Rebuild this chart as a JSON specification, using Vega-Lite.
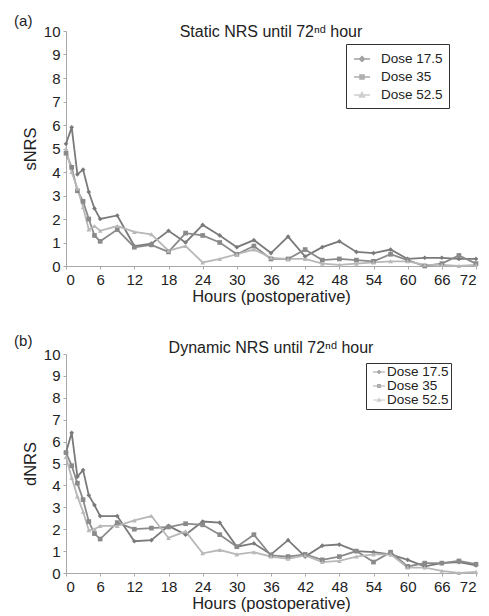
{
  "$schema": "https://vega.github.io/schema/vega-lite/v6.json",
  "padding": {"left": 14, "top": 13, "right": 5, "bottom": 2},
  "config": {
    "font": "Liberation Sans",
    "view": {"stroke": null},
    "axis": {"grid": false, "domainColor": "#a8a8a8", "tickColor": "#a8a8a8", "tickSize": 3, "labelFontSize": 15, "labelColor": "#222", "titleFontSize": 16.5, "titleFontWeight": "normal", "titleColor": "#222", "labelPadding": 3},
    "title": {"fontSize": 16, "fontWeight": "normal", "color": "#222"},
    "legend": {"labelColor": "#222", "strokeColor": "#333", "title": null}
  },
  "spacing": 28,
  "datasets": {
    "s": [
      {"h":0,"d":"Dose 17.5","v":5.2},{"h":1,"d":"Dose 17.5","v":5.9},{"h":2,"d":"Dose 17.5","v":3.9},{"h":3,"d":"Dose 17.5","v":4.1},{"h":4,"d":"Dose 17.5","v":3.15},{"h":5,"d":"Dose 17.5","v":2.45},{"h":6,"d":"Dose 17.5","v":2.0},{"h":9,"d":"Dose 17.5","v":2.15},{"h":12,"d":"Dose 17.5","v":0.85},{"h":15,"d":"Dose 17.5","v":0.95},{"h":18,"d":"Dose 17.5","v":1.5},{"h":21,"d":"Dose 17.5","v":1.0},{"h":24,"d":"Dose 17.5","v":1.75},{"h":27,"d":"Dose 17.5","v":1.3},{"h":30,"d":"Dose 17.5","v":0.8},{"h":33,"d":"Dose 17.5","v":1.1},{"h":36,"d":"Dose 17.5","v":0.55},{"h":39,"d":"Dose 17.5","v":1.25},{"h":42,"d":"Dose 17.5","v":0.4},{"h":45,"d":"Dose 17.5","v":0.8},{"h":48,"d":"Dose 17.5","v":1.05},{"h":51,"d":"Dose 17.5","v":0.6},{"h":54,"d":"Dose 17.5","v":0.55},{"h":57,"d":"Dose 17.5","v":0.7},{"h":60,"d":"Dose 17.5","v":0.3},{"h":63,"d":"Dose 17.5","v":0.35},{"h":66,"d":"Dose 17.5","v":0.35},{"h":69,"d":"Dose 17.5","v":0.3},{"h":72,"d":"Dose 17.5","v":0.3},
      {"h":0,"d":"Dose 35","v":4.8},{"h":1,"d":"Dose 35","v":4.2},{"h":2,"d":"Dose 35","v":3.2},{"h":3,"d":"Dose 35","v":2.75},{"h":4,"d":"Dose 35","v":2.0},{"h":5,"d":"Dose 35","v":1.3},{"h":6,"d":"Dose 35","v":1.05},{"h":9,"d":"Dose 35","v":1.55},{"h":12,"d":"Dose 35","v":0.8},{"h":15,"d":"Dose 35","v":0.9},{"h":18,"d":"Dose 35","v":0.6},{"h":21,"d":"Dose 35","v":1.4},{"h":24,"d":"Dose 35","v":1.3},{"h":27,"d":"Dose 35","v":1.0},{"h":30,"d":"Dose 35","v":0.5},{"h":33,"d":"Dose 35","v":0.85},{"h":36,"d":"Dose 35","v":0.3},{"h":39,"d":"Dose 35","v":0.3},{"h":42,"d":"Dose 35","v":0.7},{"h":45,"d":"Dose 35","v":0.25},{"h":48,"d":"Dose 35","v":0.3},{"h":51,"d":"Dose 35","v":0.25},{"h":54,"d":"Dose 35","v":0.2},{"h":57,"d":"Dose 35","v":0.5},{"h":60,"d":"Dose 35","v":0.25},{"h":63,"d":"Dose 35","v":0.0},{"h":66,"d":"Dose 35","v":0.1},{"h":69,"d":"Dose 35","v":0.45},{"h":72,"d":"Dose 35","v":0.1},
      {"h":0,"d":"Dose 52.5","v":5.0},{"h":1,"d":"Dose 52.5","v":4.0},{"h":2,"d":"Dose 52.5","v":3.3},{"h":3,"d":"Dose 52.5","v":2.5},{"h":4,"d":"Dose 52.5","v":1.55},{"h":5,"d":"Dose 52.5","v":1.7},{"h":6,"d":"Dose 52.5","v":1.5},{"h":9,"d":"Dose 52.5","v":1.7},{"h":12,"d":"Dose 52.5","v":1.45},{"h":15,"d":"Dose 52.5","v":1.35},{"h":18,"d":"Dose 52.5","v":0.65},{"h":21,"d":"Dose 52.5","v":0.85},{"h":24,"d":"Dose 52.5","v":0.15},{"h":27,"d":"Dose 52.5","v":0.3},{"h":30,"d":"Dose 52.5","v":0.5},{"h":33,"d":"Dose 52.5","v":0.7},{"h":36,"d":"Dose 52.5","v":0.35},{"h":39,"d":"Dose 52.5","v":0.3},{"h":42,"d":"Dose 52.5","v":0.3},{"h":45,"d":"Dose 52.5","v":0.1},{"h":48,"d":"Dose 52.5","v":0.05},{"h":51,"d":"Dose 52.5","v":0.1},{"h":54,"d":"Dose 52.5","v":0.15},{"h":57,"d":"Dose 52.5","v":0.2},{"h":60,"d":"Dose 52.5","v":0.2},{"h":63,"d":"Dose 52.5","v":0.05},{"h":66,"d":"Dose 52.5","v":0.05},{"h":69,"d":"Dose 52.5","v":0.0},{"h":72,"d":"Dose 52.5","v":0.05}
    ],
    "d": [
      {"h":0,"d":"Dose 17.5","v":5.5},{"h":1,"d":"Dose 17.5","v":6.4},{"h":2,"d":"Dose 17.5","v":4.4},{"h":3,"d":"Dose 17.5","v":4.7},{"h":4,"d":"Dose 17.5","v":3.55},{"h":5,"d":"Dose 17.5","v":3.1},{"h":6,"d":"Dose 17.5","v":2.6},{"h":9,"d":"Dose 17.5","v":2.6},{"h":12,"d":"Dose 17.5","v":1.45},{"h":15,"d":"Dose 17.5","v":1.5},{"h":18,"d":"Dose 17.5","v":2.15},{"h":21,"d":"Dose 17.5","v":1.75},{"h":24,"d":"Dose 17.5","v":2.35},{"h":27,"d":"Dose 17.5","v":2.3},{"h":30,"d":"Dose 17.5","v":1.2},{"h":33,"d":"Dose 17.5","v":1.35},{"h":36,"d":"Dose 17.5","v":0.85},{"h":39,"d":"Dose 17.5","v":1.5},{"h":42,"d":"Dose 17.5","v":0.75},{"h":45,"d":"Dose 17.5","v":1.25},{"h":48,"d":"Dose 17.5","v":1.3},{"h":51,"d":"Dose 17.5","v":1.0},{"h":54,"d":"Dose 17.5","v":0.95},{"h":57,"d":"Dose 17.5","v":0.85},{"h":60,"d":"Dose 17.5","v":0.6},{"h":63,"d":"Dose 17.5","v":0.3},{"h":66,"d":"Dose 17.5","v":0.45},{"h":69,"d":"Dose 17.5","v":0.5},{"h":72,"d":"Dose 17.5","v":0.35},
      {"h":0,"d":"Dose 35","v":5.5},{"h":1,"d":"Dose 35","v":4.9},{"h":2,"d":"Dose 35","v":4.1},{"h":3,"d":"Dose 35","v":3.35},{"h":4,"d":"Dose 35","v":2.35},{"h":5,"d":"Dose 35","v":1.8},{"h":6,"d":"Dose 35","v":1.55},{"h":9,"d":"Dose 35","v":2.3},{"h":12,"d":"Dose 35","v":2.0},{"h":15,"d":"Dose 35","v":2.05},{"h":18,"d":"Dose 35","v":2.1},{"h":21,"d":"Dose 35","v":2.25},{"h":24,"d":"Dose 35","v":2.2},{"h":27,"d":"Dose 35","v":1.75},{"h":30,"d":"Dose 35","v":1.2},{"h":33,"d":"Dose 35","v":1.75},{"h":36,"d":"Dose 35","v":0.8},{"h":39,"d":"Dose 35","v":0.75},{"h":42,"d":"Dose 35","v":0.85},{"h":45,"d":"Dose 35","v":0.6},{"h":48,"d":"Dose 35","v":0.75},{"h":51,"d":"Dose 35","v":1.0},{"h":54,"d":"Dose 35","v":0.5},{"h":57,"d":"Dose 35","v":0.95},{"h":60,"d":"Dose 35","v":0.3},{"h":63,"d":"Dose 35","v":0.45},{"h":66,"d":"Dose 35","v":0.45},{"h":69,"d":"Dose 35","v":0.55},{"h":72,"d":"Dose 35","v":0.4},
      {"h":0,"d":"Dose 52.5","v":5.3},{"h":1,"d":"Dose 52.5","v":4.35},{"h":2,"d":"Dose 52.5","v":3.5},{"h":3,"d":"Dose 52.5","v":2.8},{"h":4,"d":"Dose 52.5","v":1.95},{"h":5,"d":"Dose 52.5","v":2.0},{"h":6,"d":"Dose 52.5","v":2.15},{"h":9,"d":"Dose 52.5","v":2.15},{"h":12,"d":"Dose 52.5","v":2.4},{"h":15,"d":"Dose 52.5","v":2.6},{"h":18,"d":"Dose 52.5","v":1.6},{"h":21,"d":"Dose 52.5","v":1.9},{"h":24,"d":"Dose 52.5","v":0.9},{"h":27,"d":"Dose 52.5","v":1.05},{"h":30,"d":"Dose 52.5","v":0.85},{"h":33,"d":"Dose 52.5","v":0.95},{"h":36,"d":"Dose 52.5","v":0.75},{"h":39,"d":"Dose 52.5","v":0.65},{"h":42,"d":"Dose 52.5","v":0.8},{"h":45,"d":"Dose 52.5","v":0.5},{"h":48,"d":"Dose 52.5","v":0.55},{"h":51,"d":"Dose 52.5","v":0.75},{"h":54,"d":"Dose 52.5","v":0.85},{"h":57,"d":"Dose 52.5","v":0.85},{"h":60,"d":"Dose 52.5","v":0.25},{"h":63,"d":"Dose 52.5","v":0.25},{"h":66,"d":"Dose 52.5","v":0.1},{"h":69,"d":"Dose 52.5","v":0.0},{"h":72,"d":"Dose 52.5","v":0.05}
    ]
  },
  "vconcat": [
    {
      "width": 410,
      "height": 235,
      "title": {"text": "Static NRS until 72ⁿᵈ hour", "offset": -26},
      "data": {"name": "s"},
      "encoding": {
        "x": {"field": "h", "type": "quantitative", "scale": {"domain": [0, 72], "nice": false}, "axis": {"values": [0,6,12,18,24,30,36,42,48,54,60,66,72], "title": "Hours (postoperative)", "titlePadding": 1}},
        "y": {"field": "v", "type": "quantitative", "scale": {"domain": [0, 10], "nice": false}, "axis": {"values": [0,1,2,3,4,5,6,7,8,9,10], "title": "sNRS", "titlePadding": 5}}
      },
      "layer": [
        {"mark": {"type": "line", "strokeWidth": 1.8},
         "encoding": {"color": {"field": "d", "type": "nominal", "scale": {"domain": ["Dose 17.5", "Dose 35", "Dose 52.5"], "range": ["#7a7a7a", "#8a8a8a", "#b8b8b8"]}, "legend": null}}},
        {"mark": {"type": "point", "filled": true, "size": 22, "opacity": 1},
         "encoding": {
           "color": {"field": "d", "type": "nominal", "scale": {"domain": ["Dose 17.5", "Dose 35", "Dose 52.5"], "range": ["#7a7a7a", "#8a8a8a", "#b8b8b8"]}, "legend": null},
           "shape": {"field": "d", "type": "nominal", "scale": {"domain": ["Dose 17.5", "Dose 35", "Dose 52.5"], "range": ["diamond", "square", "triangle-up"]}, "legend": null}}},
        {"transform": [{"filter": "datum.h < 0"}],
         "mark": {"type": "point", "filled": true, "strokeWidth": 1.5},
         "encoding": {
           "fill": {"field": "d", "type": "nominal", "scale": {"domain": ["Dose 17.5", "Dose 35", "Dose 52.5"], "range": ["#7a7a7a", "#8a8a8a", "#b8b8b8"]}, "legend": {"orient": "none", "legendX": 280, "legendY": 13, "padding": 6, "symbolSize": 256, "labelFontSize": 13.5, "rowPadding": 2, "labelOffset": 10, "symbolOffset": 1, "symbolStrokeWidth": 1.5, "labelExpr": "datum.label + '          '"}},
           "stroke": {"field": "d", "type": "nominal", "scale": {"domain": ["Dose 17.5", "Dose 35", "Dose 52.5"], "range": ["#7a7a7a", "#8a8a8a", "#b8b8b8"]}, "legend": {"orient": "none", "legendX": 280, "legendY": 13, "padding": 6, "symbolSize": 256, "labelFontSize": 13.5, "rowPadding": 2, "labelOffset": 10, "symbolOffset": 1, "symbolStrokeWidth": 1.5, "labelExpr": "datum.label + '          '"}},
           "shape": {"field": "d", "type": "nominal", "scale": {"domain": ["Dose 17.5", "Dose 35", "Dose 52.5"], "range": ["M-1,0H1M0,-0.3L0.3,0L0,0.3L-0.3,0Z", "M-1,0H1M-0.25,-0.25H0.25V0.25H-0.25Z", "M-1,0H1M0,-0.3L0.3,0.25H-0.3Z"]}, "legend": {"orient": "none", "legendX": 280, "legendY": 13, "padding": 6, "symbolSize": 256, "labelFontSize": 13.5, "rowPadding": 2, "labelOffset": 10, "symbolOffset": 1, "symbolStrokeWidth": 1.5, "labelExpr": "datum.label + '          '"}}}},
        {"data": {"values": [{"t": "(a)", "h": -7.5, "v": 10.43}]},
         "mark": {"type": "text", "fontSize": 15, "color": "#222", "align": "center", "baseline": "middle"},
         "encoding": {"text": {"field": "t", "type": "nominal"}}}
      ],
      "resolve": {"scale": {"shape": "independent", "fill": "independent", "stroke": "independent"}}
    },
    {
      "width": 410,
      "height": 219,
      "title": {"text": "Dynamic NRS until 72ⁿᵈ hour", "offset": -22.5},
      "data": {"name": "d"},
      "encoding": {
        "x": {"field": "h", "type": "quantitative", "scale": {"domain": [0, 72], "nice": false}, "axis": {"values": [0,6,12,18,24,30,36,42,48,54,60,66,72], "title": "Hours (postoperative)", "titlePadding": 1}},
        "y": {"field": "v", "type": "quantitative", "scale": {"domain": [0, 10], "nice": false}, "axis": {"values": [0,1,2,3,4,5,6,7,8,9,10], "title": "dNRS", "titlePadding": 5}}
      },
      "layer": [
        {"mark": {"type": "line", "strokeWidth": 1.8},
         "encoding": {"color": {"field": "d", "type": "nominal", "scale": {"domain": ["Dose 17.5", "Dose 35", "Dose 52.5"], "range": ["#7a7a7a", "#8a8a8a", "#b8b8b8"]}, "legend": null}}},
        {"mark": {"type": "point", "filled": true, "size": 22, "opacity": 1},
         "encoding": {
           "color": {"field": "d", "type": "nominal", "scale": {"domain": ["Dose 17.5", "Dose 35", "Dose 52.5"], "range": ["#7a7a7a", "#8a8a8a", "#b8b8b8"]}, "legend": null},
           "shape": {"field": "d", "type": "nominal", "scale": {"domain": ["Dose 17.5", "Dose 35", "Dose 52.5"], "range": ["diamond", "square", "triangle-up"]}, "legend": null}}},
        {"transform": [{"filter": "datum.h < 0"}],
         "mark": {"type": "point", "filled": true, "strokeWidth": 1.2},
         "encoding": {
           "fill": {"field": "d", "type": "nominal", "scale": {"domain": ["Dose 17.5", "Dose 35", "Dose 52.5"], "range": ["#7a7a7a", "#8a8a8a", "#b8b8b8"]}, "legend": {"orient": "none", "legendX": 300, "legendY": 9, "padding": 2, "symbolSize": 144, "labelFontSize": 13.5, "rowPadding": 0, "labelOffset": 1, "symbolOffset": 4, "symbolStrokeWidth": 1.2, "labelExpr": "datum.label + '   '"}},
           "stroke": {"field": "d", "type": "nominal", "scale": {"domain": ["Dose 17.5", "Dose 35", "Dose 52.5"], "range": ["#7a7a7a", "#8a8a8a", "#b8b8b8"]}, "legend": {"orient": "none", "legendX": 300, "legendY": 9, "padding": 2, "symbolSize": 144, "labelFontSize": 13.5, "rowPadding": 0, "labelOffset": 1, "symbolOffset": 4, "symbolStrokeWidth": 1.2, "labelExpr": "datum.label + '   '"}},
           "shape": {"field": "d", "type": "nominal", "scale": {"domain": ["Dose 17.5", "Dose 35", "Dose 52.5"], "range": ["M-1,0H1M0,-0.25L0.25,0L0,0.25L-0.25,0Z", "M-1,0H1M-0.22,-0.22H0.22V0.22H-0.22Z", "M-1,0H1M0,-0.25L0.25,0.2H-0.25Z"]}, "legend": {"orient": "none", "legendX": 300, "legendY": 9, "padding": 2, "symbolSize": 144, "labelFontSize": 13.5, "rowPadding": 0, "labelOffset": 1, "symbolOffset": 4, "symbolStrokeWidth": 1.2, "labelExpr": "datum.label + '   '"}}}},
        {"data": {"values": [{"t": "(b)", "h": -7.5, "v": 10.6}]},
         "mark": {"type": "text", "fontSize": 15, "color": "#222", "align": "center", "baseline": "middle"},
         "encoding": {"text": {"field": "t", "type": "nominal"}}}
      ],
      "resolve": {"scale": {"shape": "independent", "fill": "independent", "stroke": "independent"}}
    }
  ]
}
